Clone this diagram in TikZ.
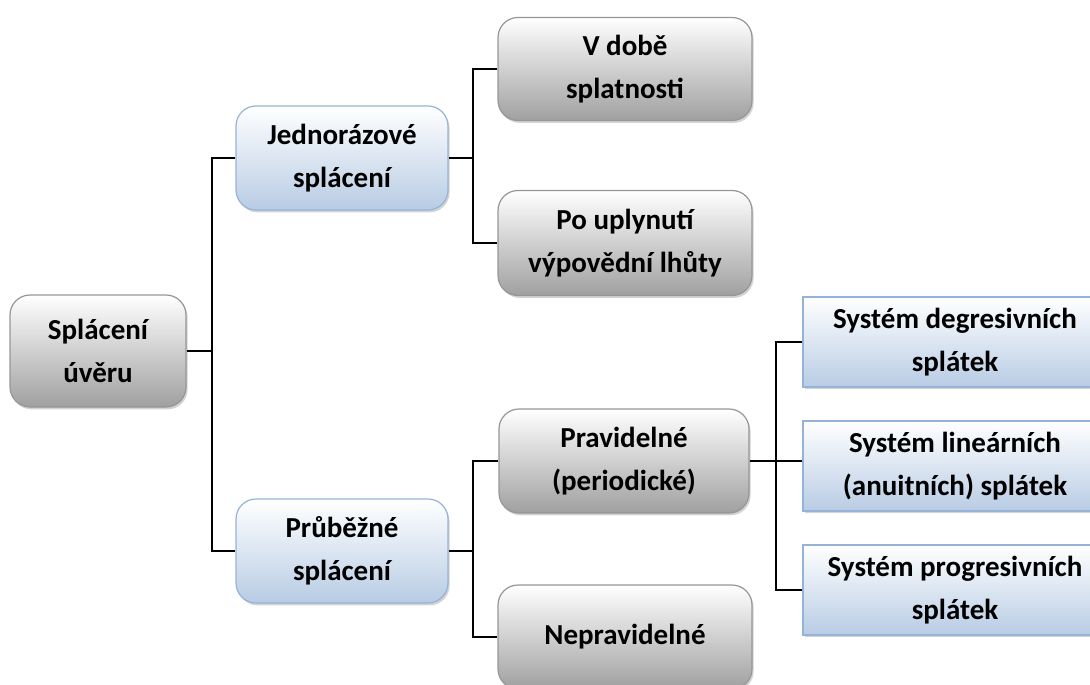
\documentclass[tikz,border=0pt]{standalone}
\usepackage{fontspec}
\setmainfont{Carlito}
\usetikzlibrary{shadows}
\definecolor{grayedge}{RGB}{150,150,150}
\definecolor{graybot}{RGB}{160,160,160}
\definecolor{blueedge}{RGB}{149,179,215}
\definecolor{bluebot}{RGB}{184,204,228}
\tikzset{
  base/.style={align=center, inner sep=0pt, font=\fontsize{14.5}{21.5}\selectfont\bfseries, text=black, line width=0.6pt,
    drop shadow={opacity=0.35, shadow xshift=0.8pt, shadow yshift=-1.2pt}},
  graybox/.style={base, rounded corners=10pt, draw=grayedge, top color=white, bottom color=graybot},
  bluebox/.style={base, rounded corners=10pt, draw=blueedge, top color=white, bottom color=bluebot},
  bluerect/.style={base, draw=blueedge, top color=white, bottom color=bluebot},
  link/.style={line width=1.3pt, black},
}
\begin{document}
\begin{tikzpicture}[x=0.5pt, y=-0.5pt]
\useasboundingbox (0,0) rectangle (1090,684);
\clip (0,0) rectangle (1090,684);
\node[graybox, minimum width=88pt, minimum height=56pt] (root) at (98,351) {Splácení\\úvěru};
\node[bluebox, minimum width=106pt, minimum height=52pt] (jedn) at (342,158) {Jednorázové\\splácení};
\node[graybox, minimum width=127pt, minimum height=51.5pt] (vdobe) at (625,69) {V době\\splatnosti};
\node[graybox, minimum width=127pt, minimum height=52.5pt] (po) at (625,243) {Po uplynutí\\výpovědní lhůty};
\node[bluebox, minimum width=106pt, minimum height=52pt] (prub) at (342,551) {Průběžné\\splácení};
\node[graybox, minimum width=125pt, minimum height=52pt] (prav) at (624,461) {Pravidelné\\(periodické)};
\node[graybox, minimum width=127pt, minimum height=52pt] (neprav) at (625,637) {Nepravidelné};
\node[bluerect, minimum width=152pt, minimum height=45pt] (sd) at (955,342) {Systém degresivních\\splátek};
\node[bluerect, minimum width=152pt, minimum height=45pt] (sl) at (955,466) {Systém lineárních\\(anuitních) splátek};
\node[bluerect, minimum width=152pt, minimum height=45pt] (sp) at (955,590) {Systém progresivních\\splátek};
\coordinate (j1) at (212,0);
\coordinate (j2) at (473,0);
\coordinate (j3) at (776,0);
\draw[link] (root.east) -- (root.east -| j1);
\draw[link] (jedn.west) -| (j1 |- prub.west) -- (prub.west);
\draw[link] (jedn.east) -- (jedn.east -| j2);
\draw[link] (vdobe.west) -| (j2 |- po.west) -- (po.west);
\draw[link] (prub.east) -- (prub.east -| j2);
\draw[link] (prav.west) -| (j2 |- neprav.west) -- (neprav.west);
\draw[link] (prav.east) -- (prav.east -| sl.west);
\draw[link] (sd.west) -| (j3 |- sp.west) -- (sp.west);
\end{tikzpicture}
\end{document}
